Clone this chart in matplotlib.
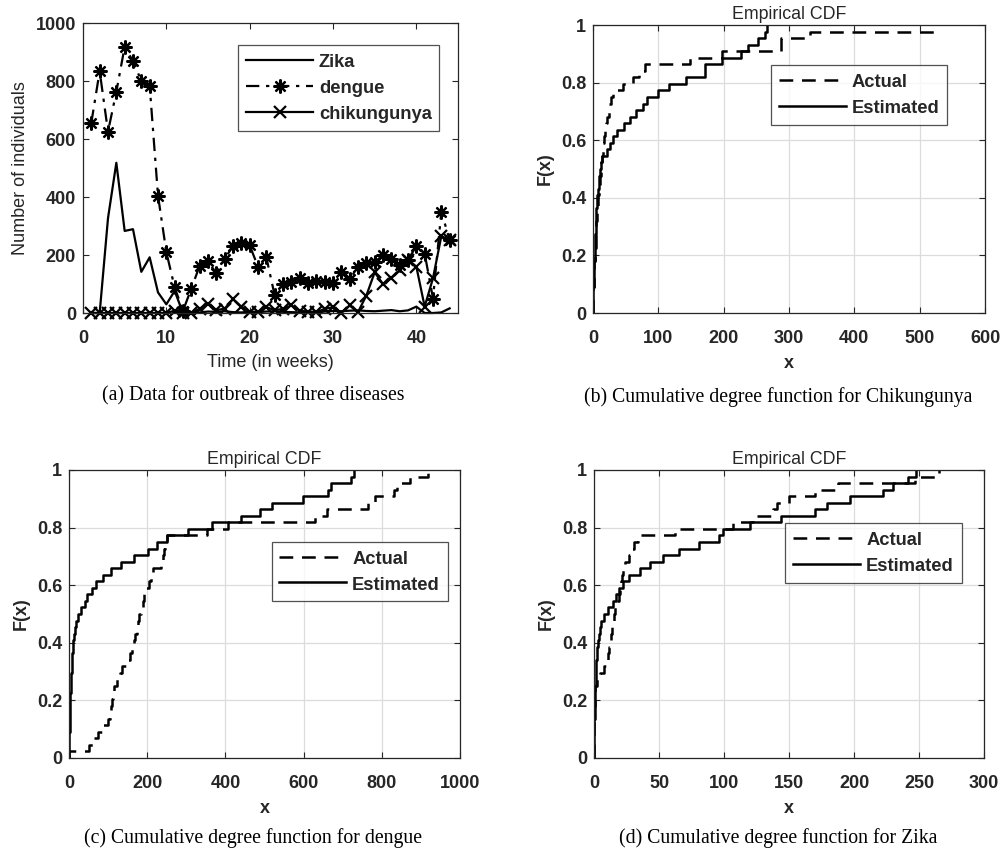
import numpy as np
import matplotlib
matplotlib.use("Agg")
import matplotlib.pyplot as plt
from matplotlib.lines import Line2D

plt.rcParams["font.family"] = ["Liberation Sans", "DejaVu Sans"]

# ---------------- weekly outbreak counts ----------------
weeks = list(range(1, 45))
zika = [0, 0, 327, 518, 283, 289, 142, 192, 71, 30, 76, 0,
        3, 2, 5, 4, 6, 3, 2, 4, 3, 5, 6, 4, 3, 2, 4, 3, 5, 7, 6, 8, 9, 7, 6,
        8, 10, 6, 9, 22, 0, 0, 2, 16]
dengue = [656, 834, 625, 763, 918, 869, 800, 784, 405, 210, 88, 8, 84, 163,
          178, 137, 187, 231, 242, 233, 160, 192, 61, 100, 106, 120, 102, 110,
          108, 102, 142, 116, 160, 171, 175, 200, 186, 165, 183, 231, 205, 50,
          349, 252]
chikungunya = [0, 0, 0, 0, 0, 0, 0, 0, 0, 0, 8, 0, 0, 15, 31, 10, 15, 48, 22,
               5, 3, 20, 10, 14, 26, 8, 5, 3, 14, 20, 0, 26, 3, 60, 140, 100,
               120, 148, 183, 160, 22, 120, 265, 252]

# ---------------- degree samples (actual vs estimated) ----------------
chik_actual = [0, 0, 0, 0, 1, 1, 2, 2, 3, 3, 4, 4, 5, 5, 6, 6, 7, 8, 9, 10,
               11, 12, 13, 14, 15, 16, 17, 18, 20, 22, 24, 25, 28, 31, 46, 61,
               70, 79, 148, 197, 288, 288, 332, 523]
chik_estimated = [0.1, 0.3, 0.5, 0.7, 1.0, 1.3, 1.6, 2.0, 2.4, 2.8, 3.2, 3.6,
                  4.0, 4.4, 4.8, 5.2, 5.6, 6.5, 7.5, 8.5, 9.5, 10.5, 12.5,
                  14.5, 21, 25.5, 31, 37, 48, 56, 66, 76, 82, 100, 117, 143,
                  171, 171, 197, 227, 237, 253, 263, 266]

dengue_actual = [0, 50, 62, 75, 88, 100, 105, 107, 110, 112, 115, 122, 130,
                 136, 145, 157, 160, 165, 169, 173, 176, 180, 184, 188, 192,
                 196, 204, 209, 214, 236, 240, 242, 246, 250, 352, 407, 629,
                 659, 765, 783, 830, 838, 872, 919]
dengue_estimated = [0, 0.3, 0.6, 1, 1.4, 1.8, 2.2, 2.7, 3.2, 3.8, 4.4, 5, 5.7,
                    6.5, 7.3, 8.2, 9.5, 11, 12.5, 15, 19, 24, 30, 41, 45, 58,
                    69, 86, 107, 133, 165, 203, 224, 250, 305, 367, 439, 488,
                    518, 599, 662, 669, 721, 729]

zika_actual = [0, 0, 0, 0, 0, 0, 0, 0.3, 0.5, 0.8, 1, 2, 4.6, 8, 9, 11, 11.5,
               12.2, 13, 13.5, 14, 15, 16, 17, 19, 20, 21, 21.5, 22, 24, 27,
               29, 31, 34, 62, 107, 122, 138, 141, 150, 170, 188, 247, 265]
zika_estimated = [0, 0, 0, 0.1, 0.2, 0.3, 0.4, 0.5, 0.6, 0.8, 1.0, 1.2, 1.4,
                  1.6, 1.9, 2.2, 2.5, 3.0, 3.6, 4.5, 5.5, 8, 11, 14.6, 17, 19,
                  22, 27, 35, 43, 53, 65, 81, 96, 99, 120, 144, 170, 179, 197,
                  222, 230, 241.5, 248]

FG = "#262626"
W, H = 1001, 857
TICK_SIZE = 13
LABEL_SIZE = 13
LEGEND_SIZE = 13.2
CAPTION_SIZE = 14.2
fig = plt.figure(figsize=(W / 100, H / 100), dpi=100)


def px_axes(left, top, right, bottom):
    return fig.add_axes([left / W, 1 - bottom / H, (right - left) / W,
                         (bottom - top) / H])


def style_axes(ax):
    for s in ax.spines.values():
        s.set_color(FG)
        s.set_linewidth(0.9)
    ax.tick_params(direction="in", top=True, right=True, length=4,
                   width=0.8, color=FG, labelcolor=FG, labelsize=TICK_SIZE)
    ax.tick_params(axis="x", pad=12)
    ax.tick_params(axis="y", pad=5)
    for lab in ax.get_xticklabels() + ax.get_yticklabels():
        lab.set_fontweight("bold")


def boxed_legend(ax, handles, labels, anchor):
    lg = ax.legend(handles, labels, loc="upper left", bbox_to_anchor=anchor,
                   borderaxespad=0, fancybox=False, edgecolor=FG,
                   handlelength=3.66, handleheight=1.0, handletextpad=0.32,
                   labelspacing=0.4, borderpad=0.42,
                   prop={"weight": "bold", "size": LEGEND_SIZE})
    lg.get_frame().set_linewidth(0.9)
    for t in lg.get_texts():
        t.set_color(FG)
    return lg


def ecdf(ax, sample, **kw):
    s = np.sort(np.asarray(sample, dtype=float))
    n = len(s)
    xs = np.concatenate([[s[0]], s])
    ys = np.concatenate([[0.0], np.arange(1, n + 1) / n])
    ax.step(xs, ys, where="post", color="black", lw=1.8, **kw)


asterisk = (8, 2, 0)

# ---------------- (a) outbreak time series ----------------
ax = px_axes(83, 23, 458, 313)
l1, = ax.plot(weeks, zika, color="black", lw=1.6, clip_on=False)
l2, = ax.plot(weeks, dengue, color="black", lw=1.6,
              linestyle=(0, (6, 3, 1.5, 3)), marker=asterisk, markersize=10,
              markeredgewidth=1.6, clip_on=False)
l3, = ax.plot(weeks, chikungunya, color="black", lw=1.6, marker="x",
              markersize=8, markeredgewidth=1.6, clip_on=False)
ax.set_xlim(0, 45)
ax.set_ylim(0, 1000)
ax.set_xticks([0, 10, 20, 30, 40])
ax.set_yticks([0, 200, 400, 600, 800, 1000])
style_axes(ax)
ax.set_xlabel("Time (in weeks)", fontsize=LABEL_SIZE, color=FG, labelpad=5)
ax.set_ylabel("Number of individuals", fontsize=LABEL_SIZE, color=FG,
              labelpad=5)
boxed_legend(ax, [l1, l2, l3], ["Zika", "dengue", "chikungunya"],
             (0.414, 0.924))

fig.text(253 / W, 1 - 396 / H, "(a) Data for outbreak of three diseases",
         ha="center", va="center", family="Liberation Serif",
         fontsize=CAPTION_SIZE)


def cdf_panel(box, actual, estimated, xmax, xstep, legend_anchor, caption,
              caption_x, caption_y):
    a = px_axes(*box)
    a.grid(True, color="#dcdcdc", lw=0.9)
    a.set_axisbelow(True)
    ecdf(a, actual, linestyle=(0, (5.5, 3.5)))
    ecdf(a, estimated, linestyle="-")
    a.set_xlim(0, xmax)
    a.set_ylim(0, 1)
    a.set_xticks(np.arange(0, xmax + 1, xstep))
    a.set_yticks([0, 0.2, 0.4, 0.6, 0.8, 1.0])
    a.set_yticklabels(["0", "0.2", "0.4", "0.6", "0.8", "1"])
    style_axes(a)
    a.set_xlabel("x", fontsize=LABEL_SIZE, fontweight="bold", color=FG,
                 labelpad=6)
    a.set_ylabel("F(x)", fontsize=LABEL_SIZE, fontweight="bold", color=FG,
                 labelpad=5)
    a.set_title("Empirical CDF", fontsize=12.8, color=FG, pad=4)
    handles = [Line2D([], [], color="black", lw=1.8,
                      linestyle=(0, (5.5, 3.5))),
               Line2D([], [], color="black", lw=1.8)]
    boxed_legend(a, handles, ["Actual", "Estimated"], legend_anchor)
    fig.text(caption_x / W, 1 - caption_y / H, caption, ha="center",
             va="center", family="Liberation Serif", fontsize=CAPTION_SIZE)
    return a


cdf_panel((593, 25, 985, 313), chik_actual, chik_estimated, 600, 100,
          (0.455, 0.861), "(b) Cumulative degree function for Chikungunya",
          778, 397)
cdf_panel((69, 470, 460, 758), dengue_actual, dengue_estimated, 1000, 200,
          (0.518, 0.751), "(c) Cumulative degree function for dengue",
          253, 838)
cdf_panel((594, 470, 984, 758), zika_actual, zika_estimated, 300, 50,
          (0.491, 0.815), "(d) Cumulative degree function for Zika",
          778, 838)

fig.savefig("out.png", dpi=100)
